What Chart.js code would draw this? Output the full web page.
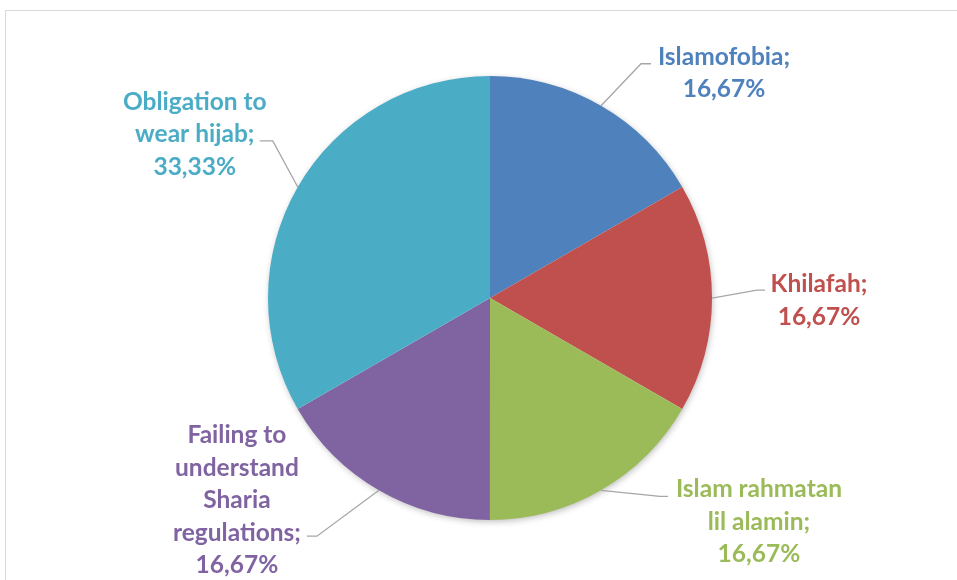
<!DOCTYPE html>
<html>
<head>
<meta charset="utf-8">
<script src="https://cdn.jsdelivr.net/npm/chart.js@4.4.1/dist/chart.umd.min.js"></script>
<style>
  html, body { margin: 0; padding: 0; background: #ffffff; }
  #wrap { position: relative; width: 957px; height: 580px; overflow: hidden; }
  #frame { position: absolute; left: 5px; top: 10px; right: 0; bottom: -2px;
           border-top: 1px solid #d9d9d9; border-left: 1px solid #d9d9d9; pointer-events: none; }
  canvas { position: absolute; left: 0; top: 0; }
</style>
</head>
<body>
<div id="wrap">
  <div id="frame"></div>
  <canvas id="c" width="957" height="580"></canvas>
</div>
<script>
// ---- Data ----
const categories = [
  ['Islamofobia'],
  ['Khilafah'],
  ['Islam rahmatan', 'lil alamin'],
  ['Failing to', 'understand', 'Sharia', 'regulations'],
  ['Obligation to', 'wear hijab']
];
const values = [16.67, 16.67, 16.67, 16.67, 33.33];
const colors = ['#4F81BD', '#C0504D', '#9BBB59', '#8064A2', '#4BACC6'];

function fmtPct(v) { return v.toFixed(2).replace('.', ',') + '%'; }

// leader-line / label placement relative to each slice's outer mid-point
const labelLayout = [
  { elbow: [40, -42],  end: 50,  textX: 123,  textY: -41 },
  { elbow: [45, -8],   end: 53,  textX: 107,  textY: -6 },
  { elbow: [59, 6],    end: 67,  textX: 158,  textY: 7 },
  { elbow: [-62, 46],  end: -72, textX: -142, textY: -47 },
  { elbow: [-25, -46], end: -38, textX: -103, textY: -77 }
];

const shadowPlugin = {
  id: 'pieShadow',
  beforeDatasetsDraw(chart) {
    const arc = chart.getDatasetMeta(0).data[0];
    if (!arc) return;
    const ctx = chart.ctx;
    ctx.save();
    ctx.shadowColor = 'rgba(0,0,0,0.3)';
    ctx.shadowBlur = 7;
    ctx.shadowOffsetX = 1;
    ctx.shadowOffsetY = 2;
    ctx.fillStyle = '#ffffff';
    ctx.beginPath();
    ctx.arc(arc.x, arc.y, arc.outerRadius - 1, 0, Math.PI * 2);
    ctx.fill();
    ctx.restore();
  }
};

const labelPlugin = {
  id: 'pieLabels',
  afterDatasetsDraw(chart) {
    const ctx = chart.ctx;
    const meta = chart.getDatasetMeta(0);
    const lineH = 32.5;
    ctx.save();
    meta.data.forEach((arc, i) => {
      const mid = (arc.startAngle + arc.endAngle) / 2;
      const ax = arc.x + Math.cos(mid) * arc.outerRadius;
      const ay = arc.y + Math.sin(mid) * arc.outerRadius;
      const L = labelLayout[i];
      const ex = ax + L.elbow[0], ey = ay + L.elbow[1];
      ctx.strokeStyle = '#a6a6a6';
      ctx.lineWidth = 1.3;
      ctx.beginPath();
      ctx.moveTo(ax, ay);
      ctx.lineTo(ex, ey);
      ctx.lineTo(ax + L.end, ey);
      ctx.stroke();

      const lines = categories[i].slice();
      lines[lines.length - 1] = lines[lines.length - 1] + ';';
      lines.push(fmtPct(values[i]));
      ctx.fillStyle = colors[i];
      ctx.font = 'bold 24.5px Lato, "Open Sans", sans-serif';
      ctx.textAlign = 'center';
      ctx.textBaseline = 'alphabetic';
      lines.forEach((t, k) => {
        ctx.fillText(t, ax + L.textX, ay + L.textY + k * lineH);
      });
    });
    ctx.restore();
  }
};

new Chart(document.getElementById('c'), {
  type: 'pie',
  data: {
    labels: categories.map(c => c.join(' ')),
    datasets: [{
      data: values,
      backgroundColor: colors,
      borderWidth: 0,
      hoverOffset: 0
    }]
  },
  options: {
    responsive: false,
    animation: false,
    layout: { padding: { left: 268, right: 245, top: 76, bottom: 60 } },
    plugins: {
      legend: { display: false },
      tooltip: { enabled: false }
    }
  },
  plugins: [shadowPlugin, labelPlugin]
});
</script>
</body>
</html>
